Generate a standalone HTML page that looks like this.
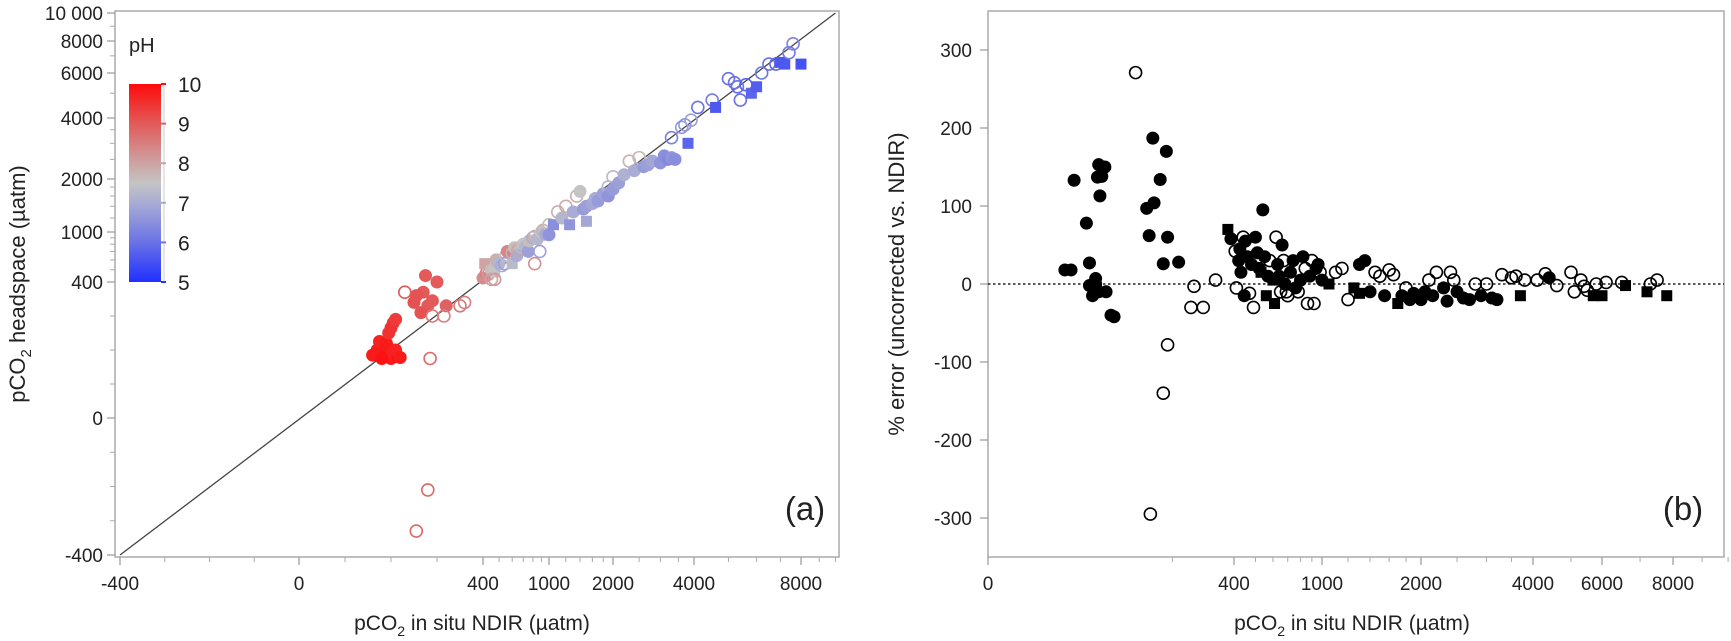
<!DOCTYPE html>
<html><head><meta charset="utf-8"><style>
html,body{margin:0;padding:0;background:#fff;}
svg{display:block;font-family:"Liberation Sans",sans-serif;}
</style></head><body>
<svg id="chart" width="1731" height="641" viewBox="0 0 1731 641" xmlns="http://www.w3.org/2000/svg">
<defs>
<linearGradient id="phgrad" x1="0" y1="1" x2="0" y2="0">
<stop offset="0" stop-color="#2030ff"/><stop offset="0.2" stop-color="#6a72e6"/><stop offset="0.4" stop-color="#a9acd4"/><stop offset="0.5" stop-color="#c4c4c4"/><stop offset="0.6" stop-color="#cda3a3"/><stop offset="0.8" stop-color="#e25a5a"/><stop offset="1" stop-color="#ff0a0a"/>
</linearGradient>
</defs>
<g id="panelA"></g>
<g id="panelB"></g>
</svg>
<script>
// ---------- Panel A data ----------
const aX = [160,170,175,185,195,200,205,215,190,180,210,220,195,200,205,210,250,270,280,265,290,300,275,320,255,230,290,315,285,280,255,350,360,
400,420,410,430,450,470,480,500,520,540,470,600,450,550,560,600,620,640,650,680,700,720,750,760,800,820,820,850,880,900,920,950,1000,1000,1050,
1100,1150,1200,1250,1300,1350,1400,1450,1500,1500,1600,1650,1700,1800,1900,1900,2000,2000,
2100,2200,2300,2400,2500,2600,2700,2800,3000,3100,3200,3300,3400,3300,3600,3700,3900,3800,
4100,4500,4600,5000,5200,5300,5400,5600,5800,6000,6200,6500,6800,7000,7200,7400,7600,8000];
const aY = [185,200,225,180,205,175,190,180,220,175,200,178,250,265,280,290,340,370,330,310,345,400,450,330,360,370,300,300,175,-210,-330,330,340,
430,470,560,460,500,480,600,560,540,560,420,560,420,650,700,680,750,650,720,760,800,760,700,850,900,560,920,880,700,1000,1020,960,1100,950,1100,
1300,1200,1400,1100,1300,1600,1700,1350,1400,1150,1450,1550,1500,1650,1800,1600,2050,1750,
1900,2100,2450,2200,2550,2300,2350,2450,2400,2600,2500,2550,2500,3200,3600,3700,3900,3000,
4400,4700,4400,5700,5500,5300,4700,5400,5000,5300,6000,6500,6500,6600,6500,7200,7800,6500];
const aPH = [9.8,9.8,9.7,9.9,9.8,9.8,9.7,9.9,9.8,9.9,9.7,9.8,9.5,9.5,9.5,9.4,9.1,9.0,9.0,9.1,9.0,9.0,9.0,8.9,9.1,9.0,8.6,8.5,8.8,8.8,8.8,8.6,8.5,
8.3,8.5,8.0,8.2,7.6,7.5,7.8,7.2,7.0,6.8,8.2,7.3,8.0,7.4,8.4,7.8,7.6,7.0,8.0,7.7,7.5,7.2,6.8,7.6,7.0,8.2,7.8,7.2,6.8,7.5,7.8,7.0,7.6,6.6,6.5,
7.8,7.2,7.9,6.6,7.0,7.8,7.5,6.7,6.8,6.9,6.9,7.0,6.7,6.8,7.2,6.6,7.3,6.7,
6.8,7.1,7.8,7.0,7.7,6.7,6.8,6.9,6.6,6.5,6.4,6.6,6.5,6.3,6.7,6.6,6.8,5.8,
6.0,6.2,5.6,6.0,6.0,6.0,6.0,5.8,5.8,5.7,6.1,6.0,5.9,5.6,5.6,6.2,6.3,5.5];
const aType = [1,1,1,1,1,1,1,1,1,1,1,1,1,1,1,1,1,1,1,1,1,1,1,1,1,0,0,0,0,0,0,0,0,
1,0,2,0,1,2,1,1,0,0,0,2,0,0,1,0,1,1,0,0,1,1,1,1,0,0,0,1,0,1,0,1,0,1,2,
0,1,0,2,1,0,1,1,1,2,1,1,1,1,0,1,0,1,
1,1,0,1,0,1,1,1,1,1,1,1,1,0,0,0,0,2,
0,0,2,0,0,0,0,0,2,2,0,0,0,2,2,0,0,2];
const aXTicks = [-400,0,400,1000,2000,4000,8000];
const aXTickLabels = ["-400","0","400","1000","2000","4000","8000"];
const aYTicks = [-400,0,400,1000,2000,4000,6000,8000,10000];
const aYTickLabels = ["-400","0","400","1000","2000","4000","6000","8000","10 000"];
const phTicks = [5,6,7,8,9,10];

// ---------- Panel B data ----------
const bX = [125,135,140,160,165,165,170,175,178,180,182,185,190,192,200,205,175,180,
258,262,268,270,280,285,290,292,310,
240,264,285,292,330,335,350,370,
390,395,405,410,420,425,430,440,445,450,460,470,480,490,500,510,520,530,540,550,560,570,580,600,610,620,630,640,650,660,670,680,690,700,720,740,760,780,800,820,840,860,880,900,920,940,960,980,1000,1050,1100,
1150,1200,1250,1300,1300,1350,1400,1450,1500,1550,1600,1650,1700,1750,1800,1850,1900,
2000,2050,2100,2150,2200,2300,2350,2400,2450,2500,2600,2700,2800,2900,3000,3100,3200,3300,3500,3600,3700,3800,
4100,4300,4400,4600,5000,5100,5300,5400,5500,5700,5800,6000,6100,6500,6600,7200,7300,7500,7800];
const bErr = [18,18,133,78,27,-2,-15,7,137,153,113,138,150,-10,-40,-42,0,-10,
97,62,187,104,134,26,170,60,28,
271,-295,-140,-78,-30,-3,-30,5,
70,58,42,-5,30,45,15,60,-15,55,35,-12,25,-30,60,40,20,15,95,35,-15,10,30,5,-25,60,25,10,-10,50,30,0,-10,-15,15,30,-5,-10,5,35,20,-25,10,30,-25,20,25,15,5,0,15,
20,-20,-5,-12,25,30,-10,15,10,-15,18,12,-25,-15,-5,-20,-12,
-20,-10,5,-15,15,-5,-22,15,5,-10,-18,-20,0,-15,0,-18,-20,12,8,10,-15,5,
5,13,8,-2,15,-10,5,-3,-8,-15,0,-15,2,2,-2,-10,0,5,-15];
const bType = [1,1,1,1,1,1,1,1,1,1,1,1,1,1,1,1,1,1,
1,1,1,1,1,1,1,1,1,
0,0,0,0,0,0,0,0,
2,1,0,0,1,1,1,0,1,1,1,0,1,0,1,1,1,2,1,1,2,1,0,2,2,0,1,1,0,1,0,1,0,0,1,1,1,0,1,1,0,0,1,0,0,1,1,0,1,2,0,
0,0,2,2,1,1,1,0,0,1,0,0,2,1,0,1,1,
1,1,0,1,0,1,1,0,0,1,1,1,0,1,0,1,1,0,0,0,2,0,
0,0,1,0,0,0,0,0,0,2,0,2,0,0,2,2,0,0,2];
const bXTicks = [0,400,1000,2000,4000,6000,8000];
const bXTickLabels = ["0","400","1000","2000","4000","6000","8000"];
const bYTicks = [-300,-200,-100,0,100,200,300];

// ---------- helpers ----------
const NS = "http://www.w3.org/2000/svg";
function mk(tag, attrs, parent){const e=document.createElementNS(NS,tag);for(const k in attrs)e.setAttribute(k,attrs[k]);parent.appendChild(e);return e;}
function tr(v){return v<=400? v : 400*Math.pow(1, 0) + 0 + (Math.log(v/400)*1000);} // monotone transform
function piecewise(vals, pix){
  const tv = vals.map(tr);
  return function(v){
    const t = tr(v);
    let i = 0;
    while(i < tv.length-2 && t > tv[i+1]) i++;
    return pix[i] + (t - tv[i])/(tv[i+1]-tv[i])*(pix[i+1]-pix[i]);
  };
}
// axis calibration (tick value -> pixel)
const ax = piecewise(aXTicks, [120,299,483,549,613,694,801]);
const ay = piecewise(aYTicks, [555,418,282,232,179,118,73,41,13]);
const bx = piecewise(bXTicks, [988,1234,1322,1421,1533,1602,1673]);
function by(v){return 284 - v*0.78;}
function phColor(p){
  const stops=[[5,[32,48,255]],[6,[106,114,230]],[7,[169,172,212]],[7.5,[196,196,196]],[8,[205,163,163]],[9,[226,90,90]],[10,[255,10,10]]];
  for(let i=0;i<stops.length-1;i++){ if(p<=stops[i+1][0]){const t=(p-stops[i][0])/(stops[i+1][0]-stops[i][0]);const c=stops[i][1].map((a,j)=>Math.round(a+t*(stops[i+1][1][j]-a)));return `rgb(${c})`;}}
  return "rgb(255,10,10)";
}
function marker(g, x, y, type, color, name){
  let e;
  if(type===2){ e=mk("rect",{x:x-5.5,y:y-5.5,width:11,height:11,fill:color},g); }
  else if(type===1){ e=mk("circle",{cx:x,cy:y,r:6.5,fill:color},g); }
  else { e=mk("circle",{cx:x,cy:y,r:6,fill:"none",stroke:color,"stroke-width":1.6},g); }
  
  
}
function txt(g, x, y, s, size, anchor, name){
  const t=mk("text",{x:x,y:y,"font-size":size,"text-anchor":anchor||"middle",fill:"#222"},g);
  t.textContent=s;
  
  
  return t;
}

// ---------- Panel A ----------
const A = document.getElementById("panelA");
const frameA = mk("rect",{x:115,y:11,width:724,height:546,fill:"none",stroke:"#aaa","stroke-width":1.5},A);


const diag = mk("line",{x1:ax(-400),y1:ay(-400),x2:ax(10000),y2:ay(10000),stroke:"#444","stroke-width":1.3},A);


aXTicks.forEach((v,i)=>{
  const x=ax(v);
  mk("line",{x1:x,y1:557,x2:x,y2:565,stroke:"#999","stroke-width":1.2},A);
  txt(A,x,590,aXTickLabels[i],19,"middle","x-tick-label-a");
});
aYTicks.forEach((v,i)=>{
  const y=ay(v);
  mk("line",{x1:107,y1:y,x2:115,y2:y,stroke:"#999","stroke-width":1.2},A);
  txt(A,103,y+7,aYTickLabels[i],19,"end","y-tick-label-a");
});
const aXMinor=[-300,-200,-100,100,200,300,500,600,700,800,900,1200,1400,1600,1800,2500,3000,3500,5000,6000,7000,9000,10000];
aXMinor.forEach(v=>{const x=ax(v);mk("line",{x1:x,y1:557,x2:x,y2:562,stroke:"#aaa"},A);});
const aYMinor=[-300,-200,-100,100,200,300,500,600,700,800,900,1200,1400,1600,1800,2500,3000,3500,5000,7000,9000];
aYMinor.forEach(v=>{const y=ay(v);mk("line",{x1:110,y1:y,x2:115,y2:y,stroke:"#aaa"},A);});
// colorbar
const cb = mk("rect",{x:129,y:84,width:32,height:198,fill:"url(#phgrad)"},A);


phTicks.forEach(p=>{
  const y=282-(p-5)/5*198;
  mk("line",{x1:161,y1:y,x2:166,y2:y,stroke:phColor(p),"stroke-width":2},A);
  txt(A,178,y+8,String(p),21,"start","colorbar-tick-label");
});
mk("line",{x1:164,y1:84,x2:164,y2:282,stroke:"#999","stroke-width":0.5},A);
txt(A,129,52,"pH",20,"start","colorbar-title");
aX.forEach((v,i)=>{ marker(A, ax(v), ay(aY[i]), aType[i], phColor(aPH[i]), 'point-a'); });
const xtA = txt(A,472,630,"",21,"middle","x-axis-title-a");
xtA.innerHTML='pCO<tspan font-size="14" dy="6">2</tspan><tspan dy="-6"> in situ NDIR (µatm)</tspan>';
const ytA = txt(A,0,0,"",22,"middle","y-axis-title-a");
ytA.setAttribute("transform","translate(25,284) rotate(-90)");
ytA.innerHTML='pCO<tspan font-size="15" dy="6">2</tspan><tspan dy="-6"> headspace (µatm)</tspan>';
txt(A,805,520,"(a)",33,"middle","panel-label-a");

// ---------- Panel B ----------
const B = document.getElementById("panelB");
const frameB = mk("rect",{x:988,y:11,width:736,height:546,fill:"none",stroke:"#aaa","stroke-width":1.5},B);


const zl = mk("line",{x1:988,y1:by(0),x2:1724,y2:by(0),stroke:"#222","stroke-width":1.4,"stroke-dasharray":"2.5,2.5"},B);


bXTicks.forEach((v,i)=>{
  const x=bx(v);
  mk("line",{x1:x,y1:557,x2:x,y2:565,stroke:"#999","stroke-width":1.2},B);
  txt(B,x,590,bXTickLabels[i],19,"middle","x-tick-label-b");
});
const bXMinor=[300,500,600,700,800,900,1200,1400,1600,1800,2500,3000,3500,5000,7000,9000,10000];
bXMinor.forEach(v=>{const x=bx(v);mk("line",{x1:x,y1:557,x2:x,y2:562,stroke:"#aaa"},B);});
bYTicks.forEach(v=>{
  const y=by(v);
  mk("line",{x1:980,y1:y,x2:988,y2:y,stroke:"#999","stroke-width":1.2},B);
  txt(B,972,y+7,String(v),19,"end","y-tick-label-b");
});
bX.forEach((v,i)=>{ marker(B, bx(v), by(bErr[i]), bType[i], "#000", 'point-b'); });
const xtB = txt(B,1352,630,"",21,"middle","x-axis-title-b");
xtB.innerHTML='pCO<tspan font-size="14" dy="6">2</tspan><tspan dy="-6"> in situ NDIR (µatm)</tspan>';
const ytB = txt(B,0,0,"% error (uncorrected vs. NDIR)",22,"middle","y-axis-title-b");
ytB.setAttribute("transform","translate(904,284) rotate(-90)");
txt(B,1683,520,"(b)",33,"middle","panel-label-b");
</script>
</body></html>
